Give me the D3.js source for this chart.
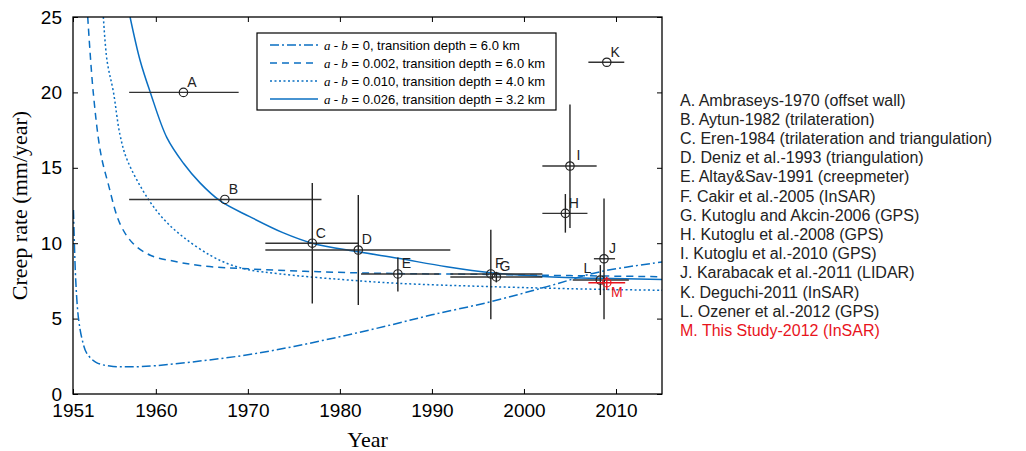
<!DOCTYPE html>
<html><head><meta charset="utf-8">
<script src="https://cdn.jsdelivr.net/npm/d3@7"></script>
<style>body{margin:0;background:#fff}svg{display:block}</style>
</head><body>
<svg id="chart" width="1026" height="451"></svg>
<script>
// ---- data ----
const xTicks = [1951, 1960, 1970, 1980, 1990, 2000, 2010];
const yTicks = [0, 5, 10, 15, 20, 25];

// model curves
const c0Years  = [1951.05,1951.3,1951.6,1952,1952.5,1953.5,1955,1957,1960,1965,1970,1975,1980,1985,1990,1996.4,2002.5,2008.3,2015];
const c0Rates  = [12.2,7.5,5.0,3.6,2.7,2.1,1.85,1.8,1.88,2.2,2.6,3.15,3.8,4.5,5.25,6.12,7.12,8.11,8.75];
const c002Years = [1952.6,1953.2,1954.0,1954.8,1956.1,1957.5,1959.4,1962,1965,1970,1977,1985,1996,2005,2015];
const c002Rates = [25,20,16,14,11.3,10,9.2,8.8,8.5,8.3,8.12,8.0,7.93,7.85,7.78];
const c010Years = [1954.3,1954.7,1955.4,1956.1,1956.9,1959.2,1961,1963,1965.9,1968,1970,1973.5,1980,1986.3,1996.4,2008.3,2015];
const c010Rates = [25,22.1,20,17.2,15.5,12.9,11.5,10.4,9.2,8.6,8.25,7.96,7.6,7.34,7.12,6.94,6.88];
const c026Years = [1957.2,1958.3,1959.4,1961.2,1963,1964.8,1967,1970.2,1973.8,1977,1982,1986.3,1991.6,1996.4,2002,2008.3,2015];
const c026Rates = [25,22.1,20,17.0,15.3,14.0,12.8,11.76,10.7,10.0,9.43,9.0,8.44,8.04,7.8,7.67,7.6];

const curveAB = ["0","0.002","0.010","0.026"];
const curveDepth = ["6.0","6.0","4.0","3.2"];

// observations
const obsLabels = ["A","B","C","D","E","F","G","H","I","J","K","L","M"];
const obsYear   = [1963.0,1967.5,1977.0,1982.0,1986.3,1996.4,1997.0,2004.5,2005.0,2008.7,2009.0,2008.3,2009.0];
const obsRate   = [20.0,12.9,10.0,9.55,7.96,7.96,7.76,11.98,15.12,8.97,22.0,7.56,7.38];
const obsXLo    = [1957.1,1957.1,1971.9,1971.9,1982.3,1992.0,1992.0,2002.0,2002.0,2007.6,2007.0,2005.3,2007.0];
const obsXHi    = [1969.0,1978.0,1982.0,1992.0,1990.8,2002.0,2002.0,2006.9,2007.9,2009.9,2010.9,2011.4,2011.0];
const obsYLo    = [null,null,6.0,5.9,6.8,4.95,7.4,10.7,11.0,4.95,null,6.56,6.9];
const obsYHi    = [null,null,14.0,13.2,9.06,10.9,8.1,13.26,19.2,12.97,null,8.55,7.78];

const refTexts = ["A. Ambraseys-1970 (offset wall)","B. Aytun-1982 (trilateration)","C. Eren-1984 (trilateration and triangulation)","D. Deniz et al.-1993 (triangulation)","E. Altay&Sav-1991 (creepmeter)","F. Cakir et al.-2005 (InSAR)","G. Kutoglu and Akcin-2006 (GPS)","H. Kutoglu et al.-2008 (GPS)","I. Kutoglu et al.-2010 (GPS)","J. Karabacak et al.-2011 (LIDAR)","K. Deguchi-2011 (InSAR)","L. Ozener et al.-2012 (GPS)","M. This Study-2012 (InSAR)"];

// ---- layout / style ----
const L = 73, R = 662, T = 17, B = 394;
const blue = "#0a6fc2";
const dashes = ["9,3,2,3", "7,5", "2,2.5", null];
const labelOffset = {L:[-13,-12], M:[10,9]};
const sans = "'Liberation Sans', Arial, Helvetica, sans-serif";
const serif = "'Liberation Serif', 'Times New Roman', serif";

const svg = d3.select("#chart");
const x = d3.scaleLinear().domain([1951, 2015]).range([L, R]);
const y = d3.scaleLinear().domain([0, 25]).range([B, T]);

svg.append("defs").append("clipPath").attr("id","clip")
  .append("rect").attr("x",L).attr("y",T).attr("width",R-L).attr("height",B-T);

// axes (inward ticks, mirrored)
function styleAxis(g, showLabels){
  g.select(".domain").remove();
  g.selectAll(".tick line").attr("stroke","#000").attr("stroke-width",1);
  g.selectAll(".tick text").attr("font-family",sans).attr("font-size",19).attr("fill","#000");
  if(!showLabels) g.selectAll(".tick text").remove();
}
svg.append("g").attr("transform",`translate(0,${B})`)
  .call(d3.axisBottom(x).tickValues(xTicks).tickFormat(d3.format("d")).tickSizeInner(-5).tickPadding(10))
  .call(g=>styleAxis(g,true));
svg.append("g").attr("transform",`translate(0,${T})`)
  .call(d3.axisTop(x).tickValues(xTicks).tickSizeInner(-5))
  .call(g=>styleAxis(g,false));
svg.append("g").attr("transform",`translate(${L},0)`)
  .call(d3.axisLeft(y).tickValues(yTicks).tickSizeInner(-5).tickPadding(11))
  .call(g=>styleAxis(g,true));
svg.append("g").attr("transform",`translate(${R},0)`)
  .call(d3.axisRight(y).tickValues(yTicks).tickSizeInner(-5))
  .call(g=>styleAxis(g,false));

// curves
const curves = [[c0Years,c0Rates],[c002Years,c002Rates],[c010Years,c010Rates],[c026Years,c026Rates]];
const line = d3.line().x(d=>x(d[0])).y(d=>y(d[1])).curve(d3.curveCatmullRom.alpha(0.5));
const cg = svg.append("g").attr("clip-path","url(#clip)");
curves.forEach((c,i)=>{
  const pts = c[0].map((yr,k)=>[yr,c[1][k]]);
  cg.append("path").attr("d",line(pts)).attr("fill","none").attr("stroke",blue)
    .attr("stroke-width",1.5).attr("stroke-dasharray",dashes[i]);
});

// observations
const og = svg.append("g");
obsLabels.forEach((lab,i)=>{
  const col = lab==="M" ? "#e8141c" : "#222";
  og.append("line").attr("x1",x(obsXLo[i])).attr("x2",x(obsXHi[i]))
    .attr("y1",y(obsRate[i])).attr("y2",y(obsRate[i])).attr("stroke",lab==="M"?col:"#333").attr("stroke-width",1.4);
  if(obsYLo[i]!==null){
    og.append("line").attr("x1",x(obsYear[i])).attr("x2",x(obsYear[i]))
      .attr("y1",y(obsYLo[i])).attr("y2",y(obsYHi[i])).attr("stroke",lab==="M"?col:"#222").attr("stroke-width",1.4);
  }
  og.append("circle").attr("cx",x(obsYear[i])).attr("cy",y(obsRate[i])).attr("r",4.2)
    .attr("fill","none").attr("stroke",col).attr("stroke-width",1.2);
  const off = labelOffset[lab] || [8.5,-10.5];
  og.append("text").attr("x",x(obsYear[i])+off[0]).attr("y",y(obsRate[i])+off[1])
    .attr("text-anchor","middle").attr("dominant-baseline","central")
    .attr("font-family",sans).attr("font-size",14).attr("fill",col).text(lab);
});

// frame
svg.append("rect").attr("x",L).attr("y",T).attr("width",R-L).attr("height",B-T)
  .attr("fill","none").attr("stroke","#000").attr("stroke-width",1.3);

// legend
const lg = svg.append("g");
lg.append("rect").attr("x",257).attr("y",33).attr("width",299).attr("height",77)
  .attr("fill","#fff").attr("stroke","#000").attr("stroke-width",1.2);
curveAB.forEach((ab,i)=>{
  const yy = 45 + i*18;
  lg.append("line").attr("x1",270).attr("x2",318).attr("y1",yy).attr("y2",yy)
    .attr("stroke",blue).attr("stroke-width",1.5).attr("stroke-dasharray",dashes[i]);
  const t = lg.append("text").attr("x",324).attr("y",yy).attr("dominant-baseline","central")
    .attr("font-family",sans).attr("font-size",13).attr("fill","#000");
  t.append("tspan").attr("font-family",serif).attr("font-style","italic").text("a");
  t.append("tspan").attr("font-family",serif).text(" - ");
  t.append("tspan").attr("font-family",serif).attr("font-style","italic").text("b");
  t.append("tspan").text(` = ${ab}, transition depth = ${curveDepth[i]} km`);
});

// axis titles
svg.append("text").attr("x",x(1983)).attr("y",447).attr("text-anchor","middle")
  .attr("font-family",serif).attr("font-size",22).text("Year");
svg.append("text").attr("transform",`translate(27,${(T+B)/2}) rotate(-90)`).attr("text-anchor","middle")
  .attr("font-family",serif).attr("font-size",22).text("Creep rate (mm/year)");

// references list
refTexts.forEach((t,i)=>{
  svg.append("text").attr("x",680).attr("y",100+i*19.2).attr("dominant-baseline","central")
    .attr("font-family",sans).attr("font-size",16)
    .attr("fill", i===12 ? "#e8141c" : "#222").text(t);
});
</script>
</body></html>
